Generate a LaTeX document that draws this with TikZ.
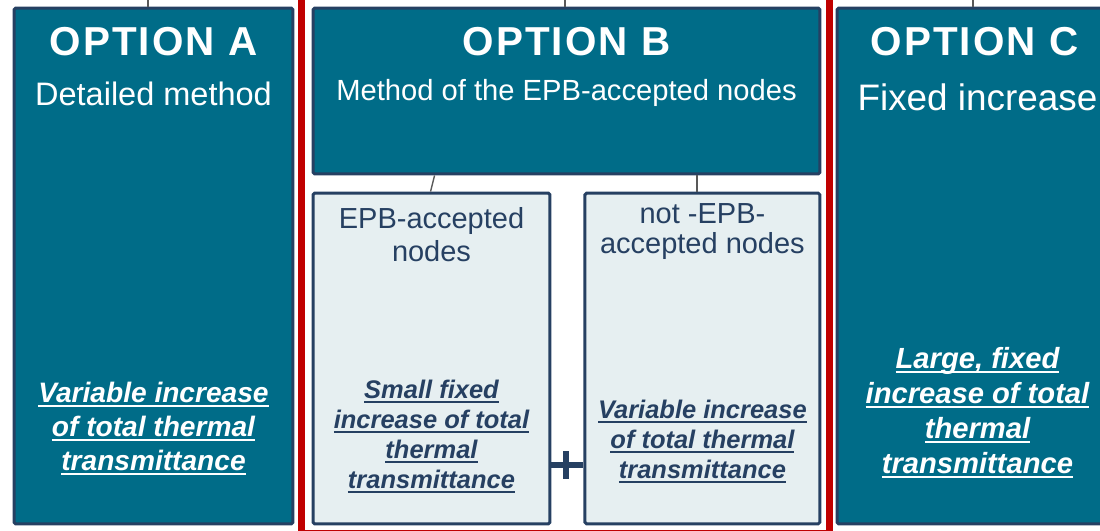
\documentclass[tikz,border=0pt]{standalone}
\usepackage{fontspec}
\setmainfont{Liberation Sans}
\usetikzlibrary{positioning,calc}
\definecolor{OptTeal}{HTML}{006C88}
\definecolor{OptNavy}{HTML}{264062}
\definecolor{OptPale}{HTML}{E6EFF1}
\definecolor{OptRed}{HTML}{C00000}
\definecolor{OptLink}{HTML}{595959}
\newcommand{\ulbox}[1]{\setbox0\hbox{#1}\rlap{\rule[-2.6pt]{\wd0}{1.1pt}}\box0}
\tikzset{
    % Option boxes
    optbox/.style={
        rectangle,
        draw=OptNavy,
        line width=1.7pt,
        fill=OptTeal,
        inner sep=0pt,
        rounded corners=1pt
    },
    subbox/.style={
        optbox,
        fill=OptPale
    },
    % Texts
    optiontitle/.style={
        anchor=base,
        inner sep=0pt,
        text=white,
        font=\fontsize{23}{27}\selectfont\bfseries\addfontfeature{LetterSpace=5}
    },
    optionsub/.style={
        anchor=base,
        inner sep=0pt,
        text=white
    },
    subtitle/.style={
        anchor=base,
        inner sep=0pt,
        align=center,
        text=OptNavy
    },
    result/.style 2 args={
        anchor=base,
        inner sep=0pt,
        align=center,
        font=\fontsize{#1}{#2}\selectfont\bfseries\itshape
    },
    % Lines
    link/.style={
        draw=OptLink,
        line width=0.8pt
    },
    plusbar/.style={
        draw=OptNavy,
        line width=3.4pt
    },
    redframe/.style={
        draw=OptRed,
        line width=4pt
    }
}
\begin{document}
\begin{tikzpicture}[x=0.02cm, y=-0.02cm]
    \useasboundingbox (0,0) rectangle (1100,531);

    % Option boxes
    \node[optbox, minimum width=5.58cm, minimum height=10.32cm] (optA) at (153.5,266) {};
    \node[optbox, minimum width=10.14cm, minimum height=3.32cm] (optB) at (566.5,91) {};
    \node[optbox, minimum width=5.5cm, minimum height=10.32cm] (optC) at (974.5,266) {};

    % Sub boxes of option B
    \node[subbox, minimum width=4.74cm, minimum height=6.62cm] (epb) at (431.5,358.5) {};
    \node[subbox, minimum width=4.7cm, minimum height=6.62cm, right=0.64cm of epb] (notepb) {};

    % Frame round option B
    \draw[redframe] (301.5,-10) rectangle (829.5,533.5);

    % Links
    \coordinate (rootA) at (148,-2);
    \coordinate (rootB) at (565,-2);
    \coordinate (rootC) at (973,-2);
    \draw[link] (rootA) -- (rootA |- optA.north);
    \draw[link] (rootB) -- (rootB |- optB.north);
    \draw[link] (rootC) -- (rootC |- optC.north);
    \draw[link] ($(optB.south west)+(123,0)$) -- ($(epb.north west)+(119,0)$);
    \draw[link] ($(notepb.north)+(-5.5,0)$) coordinate (linkR) -- (linkR |- optB.south);

    % Plus sign
    \draw[plusbar] (epb.east |- 0,465) -- (notepb.west |- 0,465);
    \draw[plusbar] (566,451) -- (566,479);

    % Option A
    \node[optiontitle] (titleA) at (optA.north |- 0,55) {OPTION A};
    \node[optionsub, font=\fontsize{18.5}{22}\selectfont] (subA) at (optA.north |- 0,105) {Detailed method};
    \node[result={16}{19.2}, text=white] (resA) at (optA.north |- 0,470)
        {\ulbox{Variable increase}\\\ulbox{of total thermal}\\\ulbox{transmittance}};

    % Option B
    \node[optiontitle] (titleB) at (optB.north |- 0,55) {OPTION B};
    \node[optionsub, font=\fontsize{16.6}{20}\selectfont] (subB) at (optB.north |- 0,100) {Method of the EPB-accepted nodes};
    \node[subtitle, font=\fontsize{16.5}{18.7}\selectfont] (titleEpb) at (epb.north |- 0,261) {EPB-accepted\\nodes};
    \node[subtitle, font=\fontsize{16.5}{17}\selectfont] (titleNotepb) at (notepb.north |- 0,253) {not -EPB-\\accepted nodes};
    \node[result={14.5}{17}, text=OptNavy] (resEpb) at (epb.north |- 0,488)
        {\ulbox{Small fixed}\\\ulbox{increase of total}\\\ulbox{thermal}\\\ulbox{transmittance}};
    \node[result={14.5}{17}, text=OptNavy] (resNotepb) at (notepb.north |- 0,478)
        {\ulbox{Variable increase}\\\ulbox{of total thermal}\\\ulbox{transmittance}};

    % Option C
    \node[optiontitle] (titleC) at (optC.north |- 0,55) {OPTION C};
    \node[optionsub, font=\fontsize{21}{25}\selectfont] (subC) at ($(optC.north |- 0,110)+(3,0)$) {Fixed increase};
    \node[result={16.6}{19.8}, text=white] (resC) at ($(optC.north |- 0,473)+(3,0)$)
        {\ulbox{Large, fixed}\\\ulbox{increase of total}\\\ulbox{thermal}\\\ulbox{transmittance}};
\end{tikzpicture}
\end{document}
